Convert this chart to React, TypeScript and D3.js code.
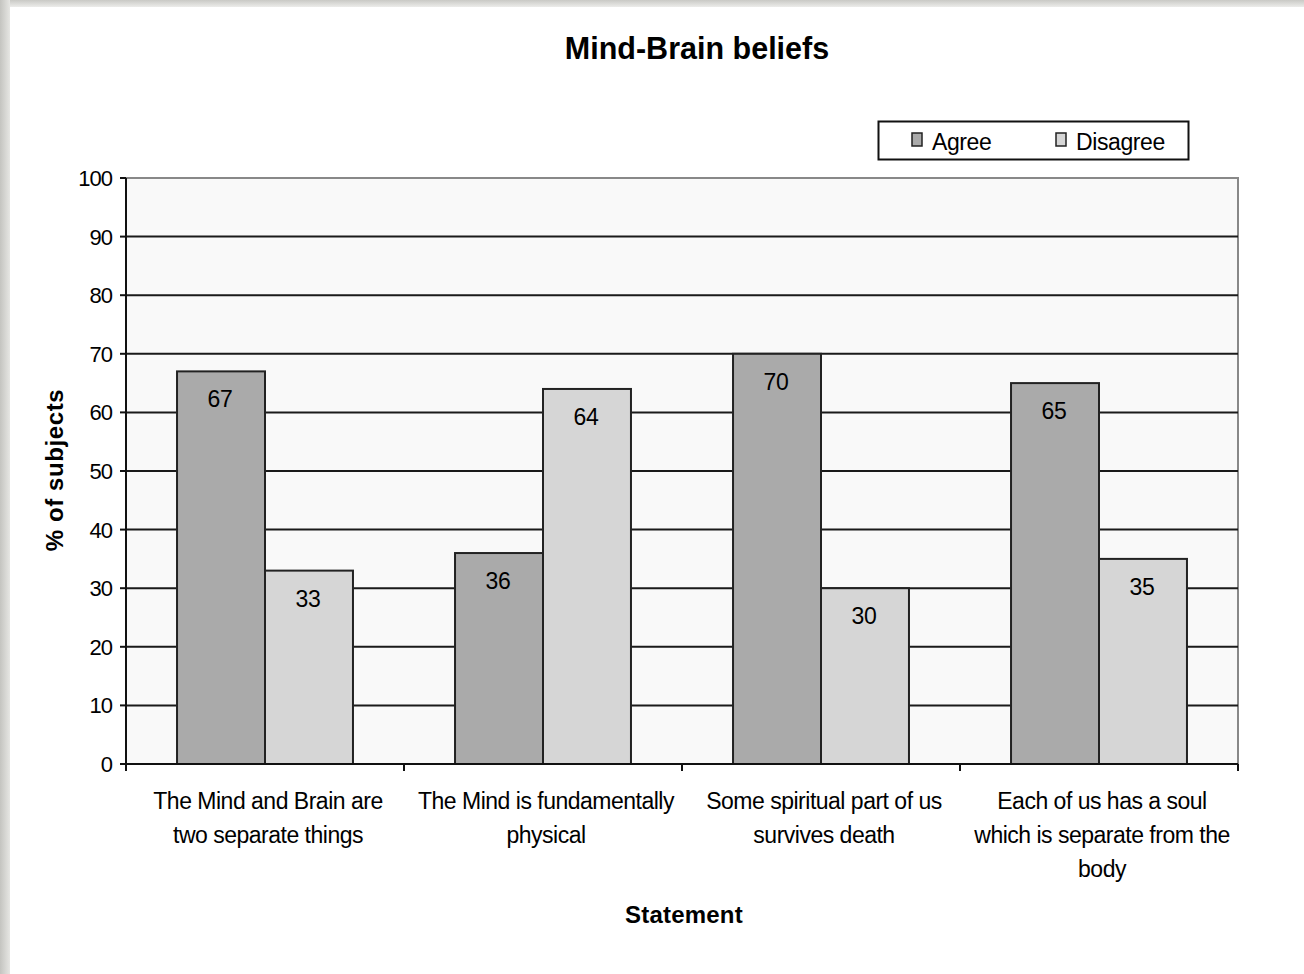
import React from "react";
import * as d3 from "d3";

// Survey responses per statement (percent of subjects)
const categories: string[][] = [
  ["The Mind and Brain are", "two separate things"],
  ["The Mind is fundamentally", "physical"],
  ["Some spiritual part of us", "survives death"],
  ["Each of us has a soul", "which is separate from the", "body"],
];
const seriesNames = ["Agree", "Disagree"];
const agree = [67, 36, 70, 65];
const disagree = [33, 64, 30, 35];
const yTicks = [0, 10, 20, 30, 40, 50, 60, 70, 80, 90, 100];

const W = 1304;
const H = 974;
const FONT = "'Liberation Sans', Arial, Helvetica, sans-serif";
const colors = ["#aaaaaa", "#d6d6d6"];

export default function App() {
  const left = 126;
  const right = 1238;
  const top = 178;
  const bottom = 764;

  const y = d3.scaleLinear().domain([0, 100]).range([bottom, top]);
  const x0 = d3
    .scaleBand<number>()
    .domain(d3.range(categories.length))
    .range([left, right])
    .paddingInner(0)
    .paddingOuter(0);
  const x1 = d3
    .scaleBand<number>()
    .domain([0, 1])
    .range([0, x0.bandwidth()])
    .paddingOuter(0.58)
    .paddingInner(0);

  const series = [agree, disagree];

  return (
    <svg
      width={W}
      height={H}
      style={{ position: "absolute", left: 0, top: 0, display: "block" }}
    >
      <defs>
        <linearGradient id="shadeTop" x1="0" y1="0" x2="0" y2="1">
          <stop offset="0" stopColor="#c9c9c5" />
          <stop offset="1" stopColor="#ececea" />
        </linearGradient>
        <linearGradient id="shadeLeft" x1="0" y1="0" x2="1" y2="0">
          <stop offset="0" stopColor="#c4c4c0" />
          <stop offset="1" stopColor="#e6e6e3" />
        </linearGradient>
      </defs>
      <rect x={0} y={0} width={W} height={H} fill="#ffffff" />
      <rect x={0} y={0} width={W} height={7} fill="url(#shadeTop)" />
      <rect x={0} y={0} width={10} height={H} fill="url(#shadeLeft)" />

      {/* title */}
      <text
        x={697}
        y={59}
        textAnchor="middle"
        fontFamily={FONT}
        fontWeight="bold"
        fontSize={30.5}
        letterSpacing={0}
        fill="#000"
      >
        Mind-Brain beliefs
      </text>

      {/* legend */}
      <rect x={878.5} y={121.5} width={310} height={38} fill="#fff" stroke="#111" strokeWidth={2} />
      {seriesNames.map((name, i) => {
        const lx = i === 0 ? 912 : 1056;
        return (
          <g key={name}>
            <rect x={lx} y={133} width={10} height={13} fill={colors[i]} stroke="#222" strokeWidth={1.5} />
            <text
              x={lx + 20}
              y={150}
              fontFamily={FONT}
              fontSize={23}
              letterSpacing={-0.4}
              fill="#000"
            >
              {name}
            </text>
          </g>
        );
      })}

      {/* plot area */}
      <rect x={left} y={top} width={right - left} height={bottom - top} fill="#f9f9f9" stroke="#888" strokeWidth={2} />

      {/* gridlines */}
      {yTicks
        .filter((t) => t > 0 && t < 100)
        .map((t) => (
          <line key={t} x1={left} x2={right} y1={y(t)} y2={y(t)} stroke="#1a1a1a" strokeWidth={2} />
        ))}

      {/* bars */}
      {categories.map((_, ci) =>
        series.map((s, si) => {
          const bx = (x0(ci) as number) + (x1(si) as number);
          const bw = x1.bandwidth();
          return (
            <g key={`${ci}-${si}`}>
              <rect
                x={bx}
                y={y(s[ci])}
                width={bw}
                height={y(0) - y(s[ci])}
                fill={colors[si]}
                stroke="#222"
                strokeWidth={2}
              />
              <text
                x={bx + bw / 2 - 1}
                y={y(s[ci]) + 36}
                textAnchor="middle"
                fontFamily={FONT}
                fontSize={23}
                letterSpacing={-0.4}
                fill="#000"
              >
                {s[ci]}
              </text>
            </g>
          );
        })
      )}

      {/* y axis */}
      <line x1={left} x2={left} y1={top} y2={bottom} stroke="#111" strokeWidth={2} />
      {yTicks.map((t) => (
        <g key={t}>
          <line x1={left - 6} x2={left} y1={y(t)} y2={y(t)} stroke="#111" strokeWidth={2} />
          <text
            x={left - 14}
            y={y(t) + 8}
            textAnchor="end"
            fontFamily={FONT}
            fontSize={22}
            letterSpacing={-1}
            fill="#000"
          >
            {t}
          </text>
        </g>
      ))}

      {/* x axis */}
      <line x1={left} x2={right} y1={bottom} y2={bottom} stroke="#111" strokeWidth={2} />
      {d3.range(categories.length + 1).map((i) => {
        const tx = left + i * x0.bandwidth();
        return <line key={i} x1={tx} x2={tx} y1={bottom} y2={bottom + 7} stroke="#111" strokeWidth={2} />;
      })}
      {categories.map((lines, ci) => (
        <text
          key={ci}
          textAnchor="middle"
          fontFamily={FONT}
          fontSize={23}
          letterSpacing={-0.5}
          fill="#000"
        >
          {lines.map((ln, li) => (
            <tspan key={li} x={(x0(ci) as number) + x0.bandwidth() / 2 + 3} y={809 + li * 34}>
              {ln}
            </tspan>
          ))}
        </text>
      ))}

      {/* axis titles */}
      <text
        x={684}
        y={923}
        textAnchor="middle"
        fontFamily={FONT}
        fontWeight="bold"
        fontSize={24}
        letterSpacing={0.2}
        fill="#000"
      >
        Statement
      </text>
      <text
        transform={`translate(63, 470) rotate(-90)`}
        textAnchor="middle"
        fontFamily={FONT}
        fontWeight="bold"
        fontSize={24}
        letterSpacing={0.6}
        fill="#000"
      >
        % of subjects
      </text>
    </svg>
  );
}
